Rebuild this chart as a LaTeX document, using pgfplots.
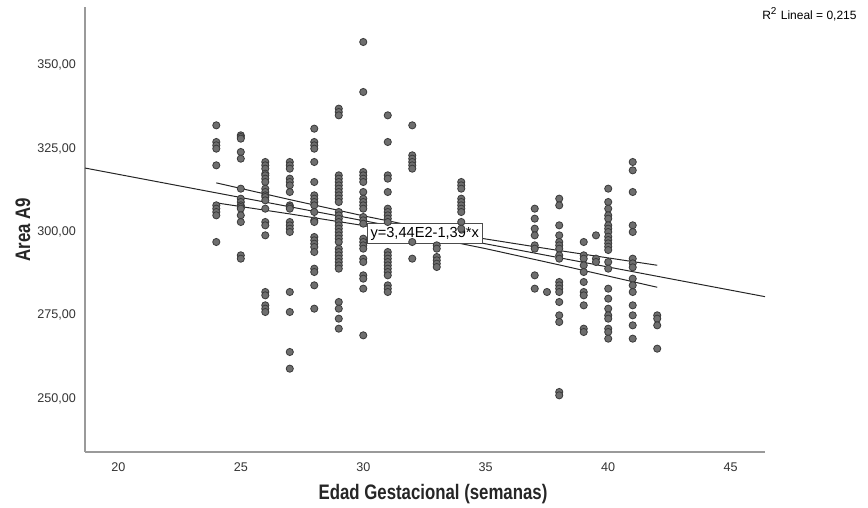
\documentclass[border=0pt]{standalone}
\usepackage{fontspec}
\setmainfont{Liberation Sans}
\usepackage{pgfplots}
\pgfplotsset{compat=1.18}
\definecolor{ptfill}{HTML}{6E6E6E}
\definecolor{ptdraw}{HTML}{3A3A3A}
\definecolor{axgray}{HTML}{9A9A9A}

\begin{document}
\begin{tikzpicture}
\begin{axis}[
  scale only axis, width=340pt, height=222.5pt,
  xmin=18.64, xmax=46.4, ymin=234, ymax=367.5,
  axis x line=bottom, axis y line=left,
  axis line style={-, axgray, line width=0.8pt},
  major tick length=0pt,
  xtick={20,25,30,35,40,45},
  ytick={250,275,300,325,350},
  yticklabels={{250,00},{275,00},{300,00},{325,00},{350,00}},
  /pgf/number format/assume math mode=true,
  tick label style={font=\fontsize{6.3}{7}\selectfont, text=black!80},
  xticklabel style={yshift=-2pt},
  yticklabel style={xshift=-1pt},
  xlabel={\scalebox{0.8}[1]{Edad Gestacional (semanas)}},
  ylabel={\scalebox{0.8}[1]{Area A9}},
  every axis x label/.style={at={(rel axis cs:0.5,0)}, yshift=-21pt, xshift=4pt, anchor=center,
    font=\bfseries\fontsize{10.5}{12}\selectfont, text=black!85},
  every axis y label/.style={at={(rel axis cs:0,0.5)}, xshift=-31pt, rotate=90, anchor=center,
    font=\bfseries\fontsize{10.5}{12}\selectfont, text=black!85},
  clip=false,
]
% data points
\addplot[only marks, mark=*, mark size=1.8pt, mark options={fill=ptfill, draw=ptdraw, line width=0.4pt}] coordinates {
(24,332) (24,327) (24,326) (24,325) (24,320) (24,308) (24,307) (24,306) (24,305) (24,297)
(25,329) (25,328.5) (25,328) (25,324) (25,322) (25,313) (25,310) (25,309) (25,308) (25,307.5) (25,307) (25,305) (25,303) (25,293) (25,292)
(26,321) (26,320) (26,319) (26,317.5) (26,317) (26,316) (26,315) (26,313) (26,312) (26,311) (26,310.5) (26,309.5) (26,307) (26,303) (26,302) (26,299) (26,282) (26,281) (26,278) (26,277) (26,276)
(27,321) (27,320) (27,319) (27,316) (27,315) (27,314) (27,312) (27,308) (27,307.5) (27,307) (27,303) (27,302) (27,301) (27,300) (27,282) (27,276) (27,264) (27,259)
(28,331) (28,327) (28,326) (28,325) (28,321) (28,315) (28,311) (28,310) (28,309) (28,308) (28,306) (28,303.5) (28,303) (28,298.5) (28,297.5) (28,296.5) (28,295.5) (28,294) (28,289) (28,288) (28,284) (28,277)
(29,337) (29,336) (29,335) (29,317) (29,316) (29,315) (29,314) (29,313) (29,312) (29,311) (29,310) (29,309) (29,306) (29,305) (29,304) (29,303) (29,302) (29,301) (29,300) (29,299) (29,298) (29,297) (29,295) (29,294) (29,293) (29,292) (29,291) (29,290) (29,289) (29,279) (29,277) (29,274) (29,271)
(30,357) (30,342) (30,318) (30,317) (30,316) (30,315) (30,312) (30,310) (30,309) (30,308) (30,307) (30,304.5) (30,303.5) (30,302.5) (30,298) (30,297) (30,296) (30,295) (30,292) (30,291) (30,287) (30,286) (30,283) (30,269)
(31,335) (31,327) (31,317) (31,316) (31,312) (31,307) (31,306) (31,305) (31,304) (31,303) (31,294) (31,293) (31,292) (31,291) (31,290) (31,289) (31,288) (31,287) (31,284) (31,283) (31,282)
(32,332) (32,323) (32,322) (32,321) (32,320) (32,319) (32,297) (32,292)
(33,296) (33,295) (33,292.5) (33,291.5) (33,290.5) (33,289.5)
(34,315) (34,314) (34,313) (34,310) (34,309) (34,308) (34,307) (34,306) (34,303) (34,301)
(37,307) (37,304) (37,301) (37,299) (37,296) (37,295) (37,287) (37,283)
(37.5,282)
(38,310) (38,308) (38,302) (38,299) (38,297) (38,296) (38,295) (38,293) (38,292) (38,285) (38,284) (38,283) (38,282) (38,279) (38,275) (38,273) (38,252) (38,251)
(39,297) (39,293) (39,292) (39,290) (39,288) (39,285) (39,282) (39,281) (39,278) (39,271) (39,270)
(39.5,299) (39.5,292) (39.5,291)
(40,313) (40,309) (40,307) (40,305) (40,304) (40,302) (40,301) (40,300) (40,298.6) (40,297.6) (40,296.6) (40,295.6) (40,294.6) (40,291) (40,289) (40,283) (40,280) (40,277) (40,275) (40,274) (40,271) (40,270) (40,268)
(41,321) (41,318.5) (41,312) (41,302) (41,300) (41,292) (41,290.6) (41,289.4) (41,286) (41,284) (41,282) (41,278) (41,275) (41,272) (41,268)
(42,275) (42,274) (42,272) (42,265)
};
% fit line
\addplot[black!85, line width=0.5pt] coordinates {(18.64,319.19) (46.4,280.6)};
% 95% CI of the mean
\addplot[black!85, line width=0.5pt] coordinates {(24,314.74) (27,309.72) (30,304.85) (32.5,301.13) (35,297.90) (38,294.43) (42,290.02)};
\addplot[black!85, line width=0.5pt] coordinates {(24,308.74) (27,305.42) (30,301.95) (32.5,298.73) (35,295.00) (38,290.13) (42,283.42)};
\node[draw=black!70, fill=white, line width=0.4pt, inner sep=1.6pt, anchor=west,
  font=\fontsize{7.3}{8.5}\selectfont] at (axis cs:30.15,299.5) {y=3,44E2-1,39*x};
\node[anchor=east, font=\fontsize{6}{7}\selectfont, inner sep=0pt] at ([xshift=46pt,yshift=-3.5pt]rel axis cs:1,1) {R\textsuperscript{2} Lineal = 0,215};
\coordinate (sw) at (rel axis cs:0,0);
\coordinate (ne) at (rel axis cs:1,1);
\end{axis}
\pgfresetboundingbox
\path ([shift={(-42.5pt,-28pt)}]sw) rectangle ([shift={(51.5pt,3.5pt)}]ne);
\end{tikzpicture}
\end{document}
